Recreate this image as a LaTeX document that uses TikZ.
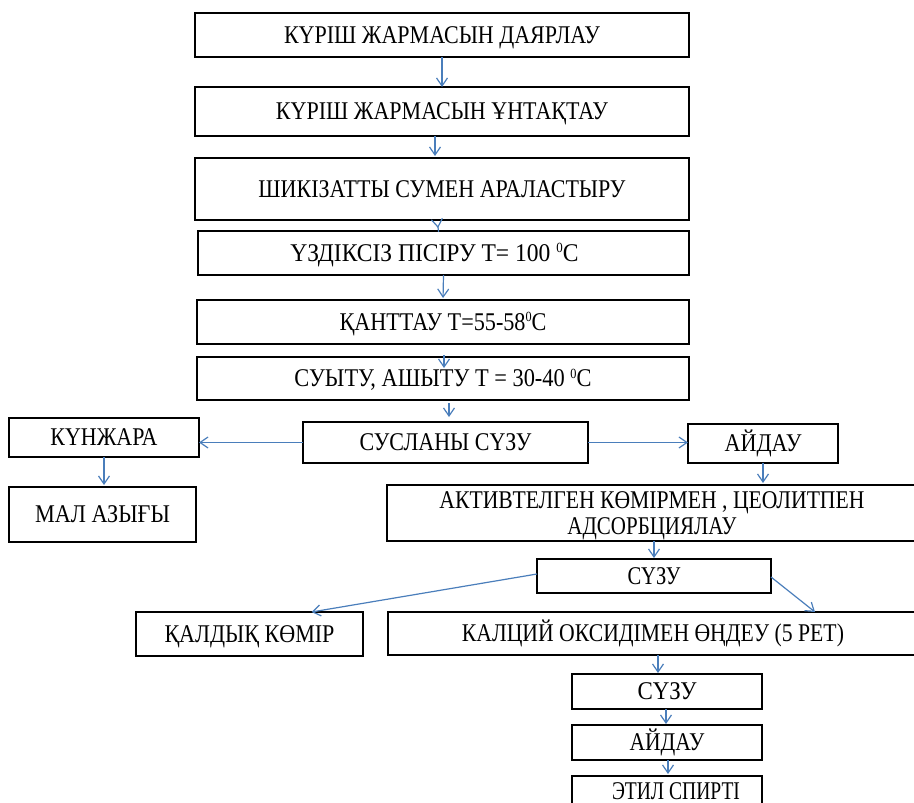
\documentclass[tikz,border=0pt]{standalone}
\usepackage{fontspec}
\setmainfont{Liberation Serif}
\usepackage{graphicx}
\usetikzlibrary{arrows.meta}
\definecolor{arrblue}{RGB}{74,126,187}
\newcommand{\fw}[2]{\resizebox{#1pt}{\height}{#2}}
\newcommand{\degsup}{\raisebox{8.5pt}{\fontsize{14}{14}\selectfont 0}}
\begin{document}
\begin{tikzpicture}[x=1pt,y=-1pt,
  boxbase/.style={draw=black, line width=2.8pt, inner sep=0pt, outer sep=0pt,
    font=\fontsize{25.5}{27}\selectfont, align=center},
  box/.style={boxbase, text height=16.5pt, text depth=0pt},
  arr/.style={draw=arrblue, line width=1.2pt, -{Straight Barb[length=8pt,width=11pt]}}]
\fill[white] (0,0) rectangle (914,803);
\clip (0,0) rectangle (914,803);
% main column
\node[box, minimum width=494pt, minimum height=44pt] (b1) at (442,35) {\fw{316}{КҮРІШ ЖАРМАСЫН ДАЯРЛАУ}};
\node[box, minimum width=494pt, minimum height=49pt] (b2) at (442,111.5) {\fw{332}{КҮРІШ ЖАРМАСЫН ҰНТАҚТАУ}};
\node[box, minimum width=494pt, minimum height=62pt] (b3) at (442,189) {\fw{367}{ШИКІЗАТТЫ СУМЕН АРАЛАСТЫРУ}};
\node[box, minimum width=491pt, minimum height=44pt] (b4) at (443.5,253) {\fw{288}{ҮЗДІКСІЗ ПІСІРУ Т= 100 \degsup С}\hspace*{18pt}};
\node[box, minimum width=492pt, minimum height=44pt] (b5) at (443,322) {\fw{207}{ҚАНТТАУ Т=55-58\degsup С}};
\node[box, minimum width=492pt, minimum height=43pt] (b6) at (443,378.5) {\fw{297}{СУЫТУ, АШЫТУ Т = 30-40 \degsup С}};
% filtration row
\node[box, minimum width=190pt, minimum height=39pt] (kun) at (104,437.5) {\fw{107}{КҮНЖАРА}};
\node[box, minimum width=187pt, minimum height=55pt] (mal) at (102.5,514.5) {\fw{135}{МАЛ АЗЫҒЫ}};
\node[box, minimum width=285pt, minimum height=41pt] (sus) at (445.5,442.5) {\fw{172}{СУСЛАНЫ СҮЗУ}};
\node[box, minimum width=150pt, minimum height=39pt] (ayd) at (763,443.5) {\fw{77}{АЙДАУ}};
\node[box, text height=42.5pt, minimum width=530pt, minimum height=56pt] (akt) at (652,513) {\fw{425}{АКТИВТЕЛГЕН КӨМІРМЕН , ЦЕОЛИТПЕН}\\[-1pt]\fw{169}{АДСОРБЦИЯЛАУ}};
\node[box, minimum width=234pt, minimum height=34pt] (suz) at (654,576) {\fw{53}{СҮЗУ}};
\node[box, minimum width=227pt, minimum height=44pt] (kal) at (249.5,634) {\fw{170}{ҚАЛДЫҚ КӨМІР}};
\node[box, minimum width=530pt, minimum height=43pt] (cal) at (653,633.5) {\fw{382}{КАЛЦИЙ ОКСИДІМЕН ӨҢДЕУ (5 РЕТ)}};
\node[box, minimum width=190pt, minimum height=35pt] (suz2) at (667,691.5) {\fw{59}{СҮЗУ}};
\node[box, minimum width=190pt, minimum height=35pt] (ayd2) at (667,742.5) {\fw{75}{АЙДАУ}};
\node[box, minimum width=190pt, minimum height=30pt] (eti) at (667,791) {\hspace*{18pt}\fw{128}{ЭТИЛ СПИРТІ}};
% connectors
\draw[arr] (b1.south) -- (b2.north);
\draw[arr, shorten >=2pt] ([xshift=-7pt]b2.south) -- ([xshift=-7pt]b3.north);
\draw[arr, shorten <=12pt, shorten >=3pt] ([xshift=-5pt]b3.south) -- ([xshift=-5pt]b4.north);
\draw[arr, shorten >=2pt] (b4.south) -- (b5.north);
\draw[arr, shorten <=11pt] ([xshift=1pt]b5.south) -- ([xshift=1pt,yshift=-11pt]b6.north);
\draw[arr, shorten <=3pt, shorten >=5pt] ([xshift=6pt]b6.south) -- ([xshift=3.5pt]sus.north);
\draw[arr] (sus.west) -- (sus.west -| kun.east);
\draw[arr] (sus.east) -- (sus.east -| ayd.west);
\draw[arr, shorten >=2pt] (kun.south) -- (kun.south |- mal.north);
\draw[arr, shorten >=2pt] (ayd.south) -- (ayd.south |- akt.north);
\draw[arr, shorten >=1pt] (suz.north |- akt.south) -- (suz.north);
\draw[arr] ([yshift=2pt]suz.west) -- ([xshift=62pt]kal.north);
\draw[arr] ([yshift=-1pt]suz.east) -- ([xshift=162pt]cal.north);
\draw[arr, shorten >=1pt] ([xshift=-9pt]suz2.north |- cal.south) -- ([xshift=-9pt]suz2.north);
\draw[arr, shorten >=1pt] ([xshift=-1pt]suz2.south) -- ([xshift=-1pt]ayd2.north);
\draw[arr, shorten >=2pt] ([xshift=1pt]ayd2.south) -- ([xshift=1pt]eti.north);
\end{tikzpicture}
\end{document}
